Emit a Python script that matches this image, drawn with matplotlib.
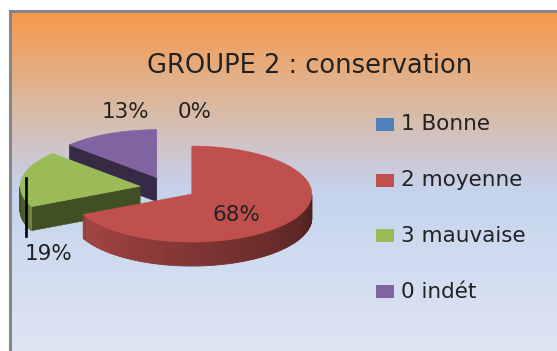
import matplotlib.pyplot as plt
import numpy as np
from matplotlib.patches import Polygon, Rectangle
from matplotlib.colors import LinearSegmentedColormap, to_rgb

title = "GROUPE 2 : conservation"
categories = ["1 Bonne", "2 moyenne", "3 mauvaise", "0 indét"]
values = [0, 68, 19, 13]
colors = ["#4F81BD", "#C0504D", "#9BBB59", "#8064A2"]

# where each percentage label sits (pixels, y down)
label_xy = [(195, 112), (236, 215), (49, 254), (126, 112)]

W, H = 557, 351
fig = plt.figure(figsize=(W / 100, H / 100), dpi=100)
ax = fig.add_axes([0, 0, 1, 1])
ax.set_xlim(0, W)
ax.set_ylim(H, 0)
ax.axis("off")

# background: orange to pale blue
bg = LinearSegmentedColormap.from_list("bg", [
    (0.0, (247/255, 152/255, 74/255)),
    (0.28, (218/255, 186/255, 162/255)),
    (0.46, (203/255, 202/255, 218/255)),
    (0.53, (196/255, 212/255, 237/255)),
    (1.0, (222/255, 229/255, 243/255)),
])
ax.imshow(np.linspace(0, 1, 400).reshape(-1, 1), cmap=bg, aspect="auto",
          extent=(10, W, H, 11), zorder=0)
ax.plot([10, 10], [H, 11], color="#868686", lw=2.2, solid_capstyle="projecting", zorder=1)
ax.plot([10, W], [11, 11], color="#868686", lw=2.2, solid_capstyle="projecting", zorder=1)

ax.text(310, 66, title, ha="center", va="center", fontsize=18.5, color="#222222")

# 3D pie geometry
cx, cy = 168, 188
a, b = 120, 48
depth = 24
explode = 0.235


def shade(c, f):
    r, g, bl = to_rgb(c)
    return (r * f, g * f, bl * f)


def rim(t, ox, oy, z=0.0):
    return ox + a * np.cos(t), oy - b * np.sin(t) + z


total = sum(values)
slices = []
cum = 0
for v, c in zip(values, colors):
    hi = 90 - 360 * cum / total
    lo = 90 - 360 * (cum + v) / total
    cum += v
    if v == 0:
        continue
    mid = np.radians((hi + lo) / 2)
    ox = cx + explode * a * np.cos(mid)
    oy = cy - explode * b * np.sin(mid)
    slices.append((oy, ox, np.radians(lo), np.radians(hi), c))

z = 2
for oy, ox, lo, hi, c in sorted(slices):
    # cut faces along the two radii
    for edge, seen in ((hi, np.cos(hi) < -1e-6), (lo, np.cos(lo) > 1e-6)):
        if seen:
            ex, ey = rim(edge, ox, oy)
            face = [(ox, oy), (ex, ey), (ex, ey + depth), (ox, oy + depth)]
            ax.add_patch(Polygon(face, closed=True, facecolor=shade(c, 0.42),
                                 edgecolor=shade(c, 0.42), lw=0.4, zorder=z))
    # outer wall on the front half, lit from the front left
    t = np.linspace(lo, hi, 160)
    t = t[np.sin(t) < 0]
    for t0, t1 in zip(t[:-1], t[1:]):
        deg = np.degrees((t0 + t1) / 2)
        f = np.interp(deg, [-180, -165, -150, 0], [0.42, 0.5, 0.85, 0.4])
        x0, y0 = rim(t0, ox, oy)
        x1, y1 = rim(t1, ox, oy)
        quad = [(x0, y0), (x1, y1), (x1, y1 + depth), (x0, y0 + depth)]
        ax.add_patch(Polygon(quad, closed=True, facecolor=shade(c, f),
                             edgecolor=shade(c, f), lw=0.6, zorder=z))
    # top surface
    tt = np.linspace(lo, hi, 200)
    xs, ys = rim(tt, ox, oy)
    top = [(ox, oy)] + list(zip(xs, ys))
    ax.add_patch(Polygon(top, closed=True, facecolor=c, edgecolor=c, lw=0.4, zorder=z + 1))
    z += 2

# percentage labels
for v, (lx, ly) in zip(values, label_xy):
    ax.text(lx, ly, f"{round(100 * v / total)}%", ha="center", va="center",
            fontsize=15.5, color="#222222", zorder=20)
ax.plot([26, 26], [178, 236], color="black", lw=1.9, zorder=20)

# legend
for i, (name, c) in enumerate(zip(categories, colors)):
    ry = 124.5 + i * 55.7
    ax.add_patch(Rectangle((376, ry - 6.5), 18, 13, facecolor=c, edgecolor="none", zorder=20))
    ax.text(401, ry, name, ha="left", va="center", fontsize=15.5, color="#222222", zorder=20)

fig.savefig("out.png", dpi=100)
